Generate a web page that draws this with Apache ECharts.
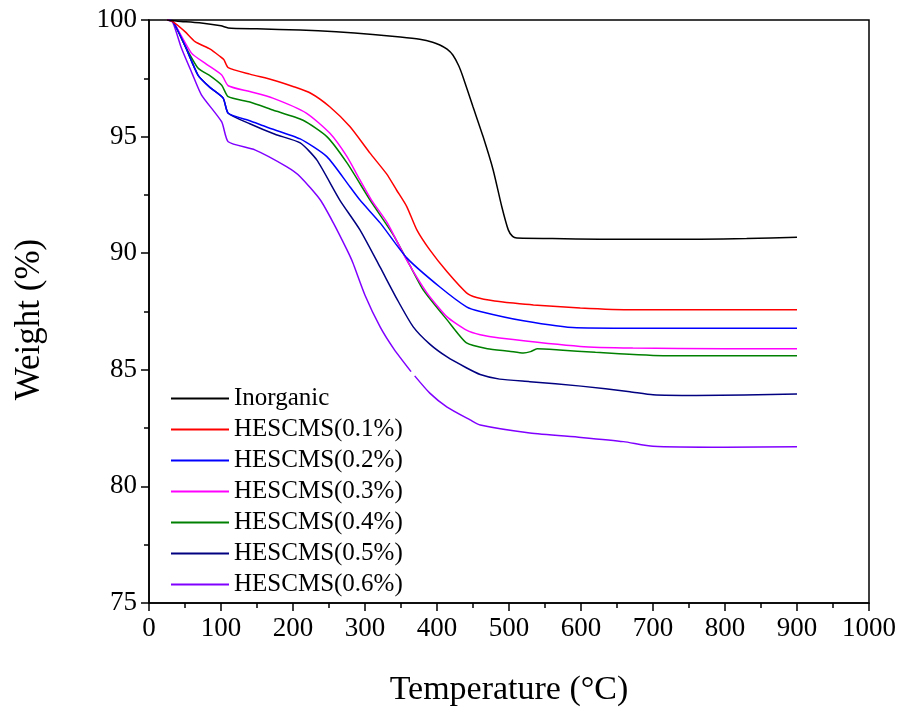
<!DOCTYPE html>
<html>
<head>
<meta charset="utf-8">
<script src="https://cdn.jsdelivr.net/npm/echarts@6/dist/echarts.min.js"></script>
<style>html,body{margin:0;padding:0;background:#fff}#c{width:904px;height:707px}</style>
</head>
<body>
<div id="c"></div>
<script>
var seriesNames = ['Inorganic','HESCMS(0.1%)','HESCMS(0.2%)','HESCMS(0.3%)','HESCMS(0.4%)','HESCMS(0.5%)','HESCMS(0.6%)'];
var seriesColors = ['#000000','#ff0000','#0000ff','#ff00ff','#008000','#000080','#8000ff'];
var xTicks = [0,100,200,300,400,500,600,700,800,900,1000];
var yTicks = [75,80,85,90,95,100];

var inorganic = [[25,100],[40,99.95],[70,99.88],[100,99.75],[110,99.66],[150,99.62],[210,99.57],[260,99.5],[311,99.38],[349,99.27],[376,99.17],[394,99.05],[404,98.93],[414,98.75],[422,98.5],[430,98.05],[436,97.57],[450,96.28],[464,95.0],[478,93.57],[490,91.99],[499,91.0],[505,90.72],[511,90.65],[560,90.63],[626,90.6],[700,90.6],[765,90.6],[830,90.63],[900,90.68]];
var h01 = [[25,100],[32,99.95],[50,99.5],[64,99.07],[85,98.75],[99,98.43],[104,98.3],[110,97.96],[140,97.68],[172,97.43],[200,97.15],[224,96.87],[251,96.28],[279,95.43],[307,94.29],[330,93.4],[344,92.7],[358,92.0],[372,91.0],[390,90.14],[414,89.2],[441,88.3],[455,88.1],[480,87.95],[506,87.86],[534,87.78],[599,87.65],[672,87.57],[800,87.57],[900,87.58]];
var h02 = [[25,100],[33,99.95],[50,98.9],[68,97.64],[85,97.1],[103,96.65],[110,96.0],[140,95.68],[164,95.4],[210,94.9],[247,94.14],[279,92.85],[293,92.28],[321,91.3],[358,89.8],[404,88.55],[441,87.7],[460,87.5],[520,87.1],[594,86.8],[700,86.78],[900,86.78]];
var h03 = [[25,100],[33,99.95],[59,98.58],[80,98.1],[101,97.64],[110,97.18],[140,96.93],[172,96.65],[219,96.0],[251,95.15],[275,94.14],[293,93.14],[309,92.28],[331,91.3],[358,89.7],[386,88.3],[414,87.27],[441,86.7],[460,86.5],[487,86.36],[599,86.0],[672,85.93],[800,85.9],[900,85.9]];
var h04 = [[25,100],[33,99.95],[50,98.9],[68,97.94],[85,97.6],[101,97.2],[110,96.71],[140,96.48],[172,96.14],[214,95.7],[247,95.0],[275,93.87],[307,92.28],[339,90.8],[362,89.5],[381,88.42],[414,87.14],[441,86.15],[470,85.9],[500,85.8],[520,85.72],[530,85.78],[539,85.9],[570,85.85],[620,85.75],[719,85.6],[900,85.6]];
var h05 = [[25,100],[33,99.95],[50,98.9],[68,97.64],[85,97.1],[103,96.65],[110,96.0],[140,95.55],[175,95.1],[210,94.73],[233,94.0],[265,92.28],[293,91.0],[321,89.4],[345,88.0],[367,86.84],[390,86.1],[414,85.55],[440,85.1],[460,84.8],[487,84.6],[529,84.49],[600,84.3],[668,84.06],[700,83.93],[760,83.9],[900,83.96]];
var h06 = [[25,100],[33,99.9],[45,98.8],[60,97.7],[73,96.78],[101,95.63],[110,94.78],[147,94.43],[191,93.71],[210,93.28],[238,92.28],[256,91.3],[275,90.14],[283,89.6],[300,88.2],[321,86.84],[340,85.9],[364,84.92],null,[369,84.74],[390,84.0],[414,83.4],[446,82.85],[460,82.63],[529,82.29],[600,82.1],[659,81.92],[700,81.72],[800,81.68],[900,81.7]];

var allData = [inorganic,h01,h02,h03,h04,h05,h06];
var FONT = '"Liberation Serif","Times New Roman",serif';

var chart = echarts.init(document.getElementById('c'), null, {renderer:'canvas'});
var series = allData.map(function(d,i){
  return {
    name: seriesNames[i], type:'line', data: d.map(function(p){return p===null?[null,null]:p;}),
    symbol:'none', smooth:0.2, connectNulls:false,
    lineStyle:{color:seriesColors[i], width:1.5}, itemStyle:{color:seriesColors[i]},
    z: 10 - i, animation:false
  };
});
chart.setOption({
  animation:false,
  backgroundColor:'#ffffff',
  grid:{left:149, right:35, top:20, bottom:104, containLabel:false, outerBoundsMode:'none', show:true, borderColor:'#000', borderWidth:1.5, backgroundColor:'transparent'},
  legend:{
    orient:'vertical', left:166, top:381, itemWidth:58, itemHeight:2, itemGap:6, icon:'rect',
    data: seriesNames,
    textStyle:{fontFamily:FONT, fontSize:25, color:'#000', lineHeight:25, padding:[0,0,0,0]}
  },
  xAxis:{
    type:'value', min:xTicks[0], max:xTicks[xTicks.length-1], interval:100,
    name:'Temperature (°C)', nameLocation:'middle', nameGap:70,
    nameTextStyle:{fontFamily:FONT, fontSize:34, color:'#000'},
    axisLine:{show:true, onZero:false, lineStyle:{color:'#000', width:1.5}},
    axisTick:{show:true, inside:false, length:8, lineStyle:{color:'#000', width:1.5}},
    minorTick:{show:true, splitNumber:2, length:5, lineStyle:{color:'#000', width:1.5}},
    splitLine:{show:false},
    axisLabel:{fontFamily:FONT, fontSize:27, color:'#000', margin:12, formatter:function(v){return String(v);}}
  },
  yAxis:{
    type:'value', min:yTicks[0], max:yTicks[yTicks.length-1], interval:5,
    name:'Weight (%)', nameLocation:'middle', nameGap:102, nameRotate:90,
    nameTextStyle:{fontFamily:FONT, fontSize:35, color:'#000', padding:[0,16,0,0]},
    axisLine:{show:true, onZero:false, lineStyle:{color:'#000', width:1.5}},
    axisTick:{show:true, inside:false, length:8, lineStyle:{color:'#000', width:1.5}},
    minorTick:{show:true, splitNumber:2, length:5, lineStyle:{color:'#000', width:1.5}},
    splitLine:{show:false},
    axisLabel:{fontFamily:FONT, fontSize:27, color:'#000', margin:12, formatter:function(v){return String(v);}}
  },
  series: series
});
</script>
</body>
</html>
